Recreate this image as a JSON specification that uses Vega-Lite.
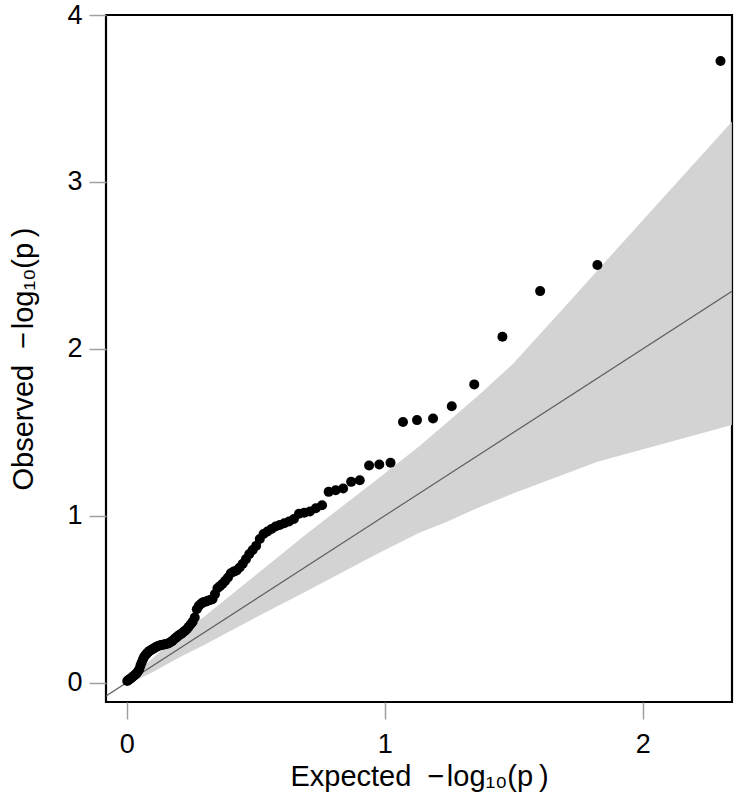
{
  "$schema": "https://vega.github.io/schema/vega-lite/v6.json",
  "width": 626,
  "height": 687,
  "autosize": {"type": "none"},
  "padding": {"left": 106, "top": 15, "right": 4, "bottom": 98},
  "background": "white",
  "config": {
    "view": {"stroke": "black", "strokeWidth": 2.2},
    "font": "Liberation Sans"
  },
  "datasets": {
    "band": [
      {"x": -0.2, "y": -0.2, "y2": -0.2},
      {"x": 0, "y": 0, "y2": 0},
      {"x": 0.05, "y": 0.025, "y2": 0.08},
      {"x": 0.1, "y": 0.062, "y2": 0.145},
      {"x": 0.207, "y": 0.153, "y2": 0.293},
      {"x": 0.3, "y": 0.225, "y2": 0.395},
      {"x": 0.5, "y": 0.39, "y2": 0.645},
      {"x": 0.7, "y": 0.55, "y2": 0.895},
      {"x": 0.981, "y": 0.78, "y2": 1.23},
      {"x": 1.136, "y": 0.9, "y2": 1.42},
      {"x": 1.239, "y": 0.963, "y2": 1.555},
      {"x": 1.369, "y": 1.053, "y2": 1.73},
      {"x": 1.497, "y": 1.133, "y2": 1.91},
      {"x": 1.639, "y": 1.215, "y2": 2.152},
      {"x": 1.824, "y": 1.323, "y2": 2.47},
      {"x": 2.345, "y": 1.543, "y2": 3.361}
    ],
    "diag": [
      {"x": -0.2, "y": -0.2},
      {"x": 2.6, "y": 2.6}
    ],
    "pts": [
      {"x": 2.301, "y": 3.725},
      {"x": 1.8239, "y": 2.502},
      {"x": 1.6021, "y": 2.346},
      {"x": 1.4559, "y": 2.072},
      {"x": 1.3468, "y": 1.787},
      {"x": 1.2596, "y": 1.656},
      {"x": 1.1871, "y": 1.583},
      {"x": 1.1249, "y": 1.573},
      {"x": 1.0706, "y": 1.562},
      {"x": 1.0223, "y": 1.317},
      {"x": 0.9788, "y": 1.307},
      {"x": 0.9393, "y": 1.301},
      {"x": 0.9031, "y": 1.213},
      {"x": 0.8697, "y": 1.203},
      {"x": 0.8386, "y": 1.163},
      {"x": 0.8097, "y": 1.153},
      {"x": 0.7825, "y": 1.143},
      {"x": 0.757, "y": 1.063},
      {"x": 0.7328, "y": 1.045},
      {"x": 0.71, "y": 1.025},
      {"x": 0.6882, "y": 1.018},
      {"x": 0.6676, "y": 1.012},
      {"x": 0.6478, "y": 0.98},
      {"x": 0.6289, "y": 0.965},
      {"x": 0.6108, "y": 0.955},
      {"x": 0.5935, "y": 0.945},
      {"x": 0.5768, "y": 0.935},
      {"x": 0.5607, "y": 0.92},
      {"x": 0.5452, "y": 0.905},
      {"x": 0.5302, "y": 0.89},
      {"x": 0.5157, "y": 0.86},
      {"x": 0.5017, "y": 0.82},
      {"x": 0.4881, "y": 0.795},
      {"x": 0.475, "y": 0.77},
      {"x": 0.4622, "y": 0.74},
      {"x": 0.4498, "y": 0.712},
      {"x": 0.4377, "y": 0.69},
      {"x": 0.426, "y": 0.672},
      {"x": 0.4145, "y": 0.665},
      {"x": 0.4034, "y": 0.655},
      {"x": 0.3925, "y": 0.63},
      {"x": 0.382, "y": 0.61},
      {"x": 0.3716, "y": 0.592},
      {"x": 0.3615, "y": 0.578},
      {"x": 0.3516, "y": 0.565},
      {"x": 0.342, "y": 0.53},
      {"x": 0.3325, "y": 0.5},
      {"x": 0.3233, "y": 0.495},
      {"x": 0.3143, "y": 0.49},
      {"x": 0.3054, "y": 0.485},
      {"x": 0.2967, "y": 0.482},
      {"x": 0.2882, "y": 0.472},
      {"x": 0.2798, "y": 0.46},
      {"x": 0.2716, "y": 0.44},
      {"x": 0.2636, "y": 0.39},
      {"x": 0.2557, "y": 0.365},
      {"x": 0.248, "y": 0.35},
      {"x": 0.2403, "y": 0.335},
      {"x": 0.2328, "y": 0.32},
      {"x": 0.2255, "y": 0.31},
      {"x": 0.2182, "y": 0.3},
      {"x": 0.2111, "y": 0.292},
      {"x": 0.2041, "y": 0.285},
      {"x": 0.1972, "y": 0.277},
      {"x": 0.1904, "y": 0.268},
      {"x": 0.1838, "y": 0.26},
      {"x": 0.1772, "y": 0.25},
      {"x": 0.1707, "y": 0.243},
      {"x": 0.1643, "y": 0.237},
      {"x": 0.158, "y": 0.233},
      {"x": 0.1518, "y": 0.231},
      {"x": 0.1457, "y": 0.229},
      {"x": 0.1397, "y": 0.227},
      {"x": 0.1337, "y": 0.225},
      {"x": 0.1278, "y": 0.223},
      {"x": 0.1221, "y": 0.22},
      {"x": 0.1163, "y": 0.215},
      {"x": 0.1107, "y": 0.21},
      {"x": 0.1051, "y": 0.205},
      {"x": 0.0996, "y": 0.2},
      {"x": 0.0942, "y": 0.195},
      {"x": 0.0888, "y": 0.19},
      {"x": 0.0835, "y": 0.183},
      {"x": 0.0783, "y": 0.175},
      {"x": 0.0731, "y": 0.165},
      {"x": 0.068, "y": 0.155},
      {"x": 0.063, "y": 0.14},
      {"x": 0.058, "y": 0.12},
      {"x": 0.0531, "y": 0.1},
      {"x": 0.0482, "y": 0.078},
      {"x": 0.0434, "y": 0.066},
      {"x": 0.0386, "y": 0.056},
      {"x": 0.0339, "y": 0.048},
      {"x": 0.0292, "y": 0.042},
      {"x": 0.0246, "y": 0.036},
      {"x": 0.02, "y": 0.03},
      {"x": 0.0155, "y": 0.025},
      {"x": 0.011, "y": 0.02},
      {"x": 0.0066, "y": 0.015},
      {"x": 0.0022, "y": 0.01}
    ]
  },
  "encoding": {
    "x": {
      "field": "x",
      "type": "quantitative",
      "scale": {"domain": [-0.0802, 2.3455], "nice": false, "zero": false},
      "axis": {
        "values": [0, 1, 2],
        "title": "Expected\u00a0\u00a0−\u200alog₁₀(p\u2009)",
        "domain": false,
        "grid": false,
        "ticks": true,
        "tickColor": "#a0a0a0",
        "tickSize": 17,
        "tickWidth": 1.5,
        "labelFontSize": 27,
        "labelColor": "black",
        "labelPadding": 12,
        "labelFlush": false,
        "labelOverlap": false,
        "titleFontSize": 29,
        "titleFontWeight": "normal",
        "titleColor": "black",
        "titlePadding": 5
      }
    },
    "y": {
      "field": "y",
      "type": "quantitative",
      "scale": {"domain": [-0.1163, 4.0006], "nice": false, "zero": false},
      "axis": {
        "values": [0, 1, 2, 3, 4],
        "title": "Observed\u00a0\u00a0−\u200alog₁₀(p\u2009)",
        "domain": false,
        "grid": false,
        "ticks": true,
        "tickColor": "#a0a0a0",
        "tickSize": 17,
        "tickWidth": 1.5,
        "labelFontSize": 27,
        "labelColor": "black",
        "labelPadding": 7,
        "labelFlush": false,
        "labelOverlap": false,
        "titleFontSize": 29,
        "titleFontWeight": "normal",
        "titleColor": "black",
        "titlePadding": 28
      }
    }
  },
  "layer": [
    {
      "data": {"name": "band"},
      "mark": {"type": "area", "color": "#d3d3d3", "opacity": 1, "clip": true},
      "encoding": {"y2": {"field": "y2"}}
    },
    {
      "data": {"name": "diag"},
      "mark": {"type": "line", "color": "#606060", "strokeWidth": 1.2, "clip": true},
      "encoding": {}
    },
    {
      "data": {"name": "pts"},
      "mark": {"type": "circle", "color": "black", "opacity": 1, "size": 100},
      "encoding": {}
    }
  ]
}
